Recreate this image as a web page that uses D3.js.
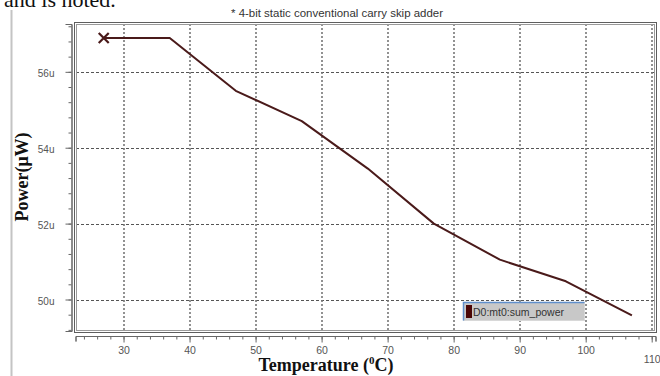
<!DOCTYPE html>
<html>
<head>
<meta charset="utf-8">
<script src="https://cdn.jsdelivr.net/npm/d3@7/dist/d3.min.js"></script>
<style>
  html, body { margin: 0; padding: 0; background: #fff; }
  svg { display: block; }
</style>
</head>
<body>
<svg id="chart" width="660" height="376"></svg>
<script>
// Sum power of the 4-bit static conventional carry skip adder vs temperature
const temperatures = [27, 37, 47, 57, 67, 77, 87, 97, 107];
const powerMicroW  = [56.89, 56.89, 55.50, 54.70, 53.45, 52.00, 51.05, 50.48, 49.58];
const xTickValues  = [30, 40, 50, 60, 70, 80, 90, 100, 110];
const yTickValues  = [50, 52, 54, 56];
const yTickLabels  = ["50u", "52u", "54u", "56u"];
const seriesName   = "D0:mt0:sum_power";
const chartTitle   = "* 4-bit static conventional carry skip adder";

const svg = d3.select("#chart");
const W = 660, H = 376;
const plot = { left: 76, right: 655, top: 24, bottom: 331 };

const x = d3.scaleLinear().domain([22.8, 110.5]).range([plot.left, plot.right]);
const y = d3.scaleLinear().domain([49.17, 57.26]).range([plot.bottom, plot.top]);

// surrounding page text and figure edge
svg.append("text")
  .attr("x", 4).attr("y", 7)
  .attr("font-family", "Liberation Serif, Times New Roman, serif")
  .attr("font-size", 22).attr("fill", "#111")
  .text("and is noted.");
svg.append("line")
  .attr("x1", 11.5).attr("x2", 11.5).attr("y1", 10).attr("y2", H)
  .attr("stroke", "#c4c4c4").attr("stroke-width", 2);

// title
svg.append("text")
  .attr("x", 337).attr("y", 17)
  .attr("text-anchor", "middle")
  .attr("font-family", "Liberation Sans, Arial, sans-serif")
  .attr("font-size", 10.5).attr("fill", "#333")
  .attr("textLength", 212).attr("lengthAdjust", "spacingAndGlyphs")
  .text(chartTitle);

// grid
const grid = svg.append("g");
grid.selectAll("line.h").data(yTickValues).join("line")
  .attr("x1", plot.left).attr("x2", plot.right)
  .attr("y1", d => Math.round(y(d)) + 0.5).attr("y2", d => Math.round(y(d)) + 0.5)
  .attr("stroke", "#555").attr("stroke-width", 1).attr("stroke-dasharray", "3,2");
grid.selectAll("line.v").data(xTickValues).join("line")
  .attr("x1", d => Math.round(x(d))).attr("x2", d => Math.round(x(d)))
  .attr("y1", plot.top).attr("y2", plot.bottom)
  .attr("stroke", "#777").attr("stroke-width", 1.6).attr("stroke-dasharray", "2,2");

// plot frame (double line)
svg.append("rect")
  .attr("x", plot.left - 1.5).attr("y", plot.top - 1.5)
  .attr("width", plot.right - plot.left + 3).attr("height", plot.bottom - plot.top + 3)
  .attr("fill", "none").attr("stroke", "#5e5e5e").attr("stroke-width", 1);
svg.append("rect")
  .attr("x", plot.left + 0.5).attr("y", plot.top + 0.5)
  .attr("width", plot.right - plot.left - 1).attr("height", plot.bottom - plot.top - 1)
  .attr("fill", "none").attr("stroke", "#9a9a9a").attr("stroke-width", 1);

// y axis: separate ruler to the left of the frame
const yMinor = d3.range(49.2, 57.25, 0.4).map(v => +v.toFixed(1));
const yAxisMinor = d3.axisLeft(y).tickValues(yMinor).tickSize(3).tickFormat("");
const yAxisMajor = d3.axisLeft(y).tickValues(yTickValues).tickSize(6)
  .tickFormat((d, i) => yTickLabels[i]);
const gyMinor = svg.append("g").attr("transform", "translate(71.5,0)").call(yAxisMinor);
const gy = svg.append("g").attr("transform", "translate(71.5,0)").call(yAxisMajor);
[gyMinor, gy].forEach(g => {
  g.select(".domain").attr("stroke", "#666");
  g.selectAll(".tick line").attr("stroke", "#666");
});
gy.selectAll(".tick text")
  .attr("x", -17).attr("dy", "0.45em")
  .attr("font-family", "Liberation Sans Narrow, Liberation Sans, Arial, sans-serif")
  .attr("font-size", 10).attr("fill", "#555");

// x axis: separate ruler below the frame
const xMinor = d3.range(24, 110.5, 2);
const xAxisMinor = d3.axisBottom(x).tickValues(xMinor).tickSize(3).tickFormat("");
const xAxisMajor = d3.axisBottom(x).tickValues(xTickValues).tickSize(6).tickFormat(d3.format("d"));
const gxMinor = svg.append("g").attr("transform", "translate(0,336.5)").call(xAxisMinor);
const gx = svg.append("g").attr("transform", "translate(0,336.5)").call(xAxisMajor);
[gxMinor, gx].forEach(g => {
  g.select(".domain").attr("stroke", "#666").attr("d", `M${plot.left},5V0H${plot.right + 1}V5`);
  g.selectAll(".tick line").attr("stroke", "#666");
});
gx.selectAll(".tick text")
  .attr("y", d => d === 110 ? 19 : 10)
  .attr("font-family", "Liberation Sans Narrow, Liberation Sans, Arial, sans-serif")
  .attr("font-size", 10.5).attr("fill", "#555");

// axis titles
svg.append("text")
  .attr("transform", "translate(28,177) rotate(-90)")
  .attr("text-anchor", "middle")
  .attr("font-family", "Liberation Serif, Times New Roman, serif")
  .attr("font-weight", "bold").attr("font-size", 18).attr("fill", "#111")
  .text("Power(μW)");
const xt = svg.append("text")
  .attr("x", 326).attr("y", 371)
  .attr("text-anchor", "middle")
  .attr("font-family", "Liberation Serif, Times New Roman, serif")
  .attr("font-weight", "bold").attr("font-size", 18).attr("fill", "#111");
xt.append("tspan").text("Temperature (");
xt.append("tspan").attr("font-size", 11).attr("dy", -7).text("0");
xt.append("tspan").attr("dy", 7).text("C)");

// series line
const pts = temperatures.map((t, i) => [t, powerMicroW[i]]);
const lineColor = "#4a1a1a";
svg.append("path")
  .datum(pts)
  .attr("fill", "none").attr("stroke", lineColor).attr("stroke-width", 2)
  .attr("stroke-linejoin", "round")
  .attr("d", d3.line().x(d => x(d[0])).y(d => y(d[1])));

// cross marker on the first point
const m0 = pts[0];
const mx = x(m0[0]), my = y(m0[1]), r = 5;
svg.append("path")
  .attr("d", `M${mx - r},${my - r}L${mx + r},${my + r}M${mx - r},${my + r}L${mx + r},${my - r}`)
  .attr("stroke", lineColor).attr("stroke-width", 2.2).attr("fill", "none");

// legend
const lg = svg.append("g").attr("transform", "translate(463,302)");
lg.append("rect").attr("x", 0.5).attr("y", 0.5).attr("width", 121).attr("height", 18)
  .attr("fill", "#c8c8c8").attr("stroke", "#d8d8d8");
lg.append("path").attr("d", "M0.5,18.5V0.5H121.5")
  .attr("fill", "none").attr("stroke", "#5f8fcc").attr("stroke-width", 1.5);
lg.append("rect").attr("x", 3).attr("y", 3).attr("width", 6).attr("height", 13)
  .attr("fill", "#4a0606");
lg.append("text").attr("x", 10).attr("y", 14)
  .attr("font-family", "Liberation Sans Narrow, Liberation Sans, Arial, sans-serif")
  .attr("font-size", 10.5).attr("fill", "#333")
  .text(seriesName);
</script>
</body>
</html>
